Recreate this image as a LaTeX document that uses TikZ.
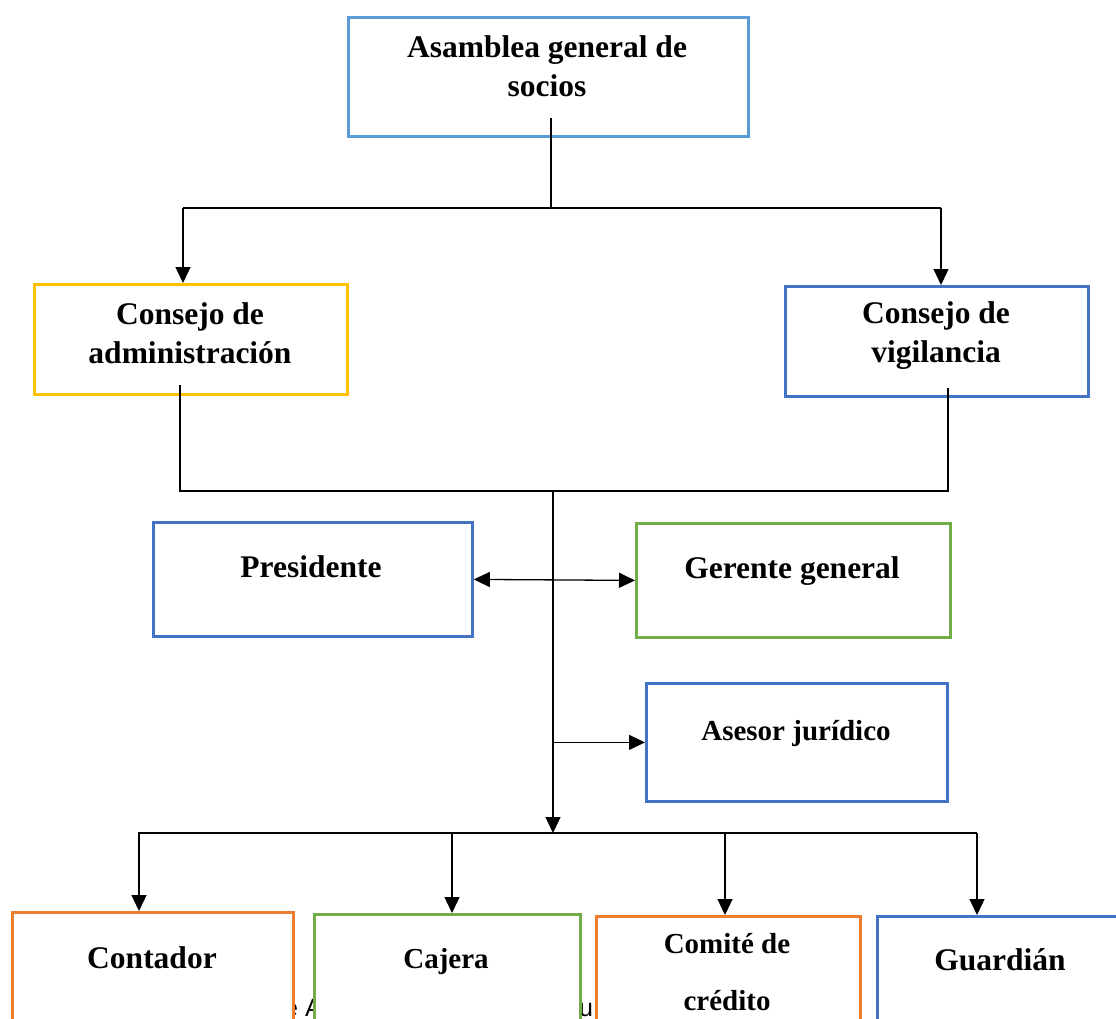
\documentclass[tikz,border=0pt]{standalone}
\usepackage{fontspec}
\setmainfont{Liberation Serif}
\newfontfamily\notefont{Liberation Sans}
\usetikzlibrary{arrows.meta,calc}

\definecolor{skyblue}{HTML}{5B9BD5}
\definecolor{gold}{HTML}{FFC000}
\definecolor{royal}{HTML}{4472C4}
\definecolor{leaf}{HTML}{70AD47}
\definecolor{tangerine}{HTML}{ED7D31}

\tikzset{
  box/.style={draw, line width=2.8pt, fill=white, inner sep=0pt, anchor=north west},
  lbl/.style={font=\bfseries\fontsize{31.5}{39}\selectfont, anchor=base, inner sep=0pt, align=center},
  lblsm/.style={lbl, font=\bfseries\fontsize{29}{57}\selectfont},
  note/.style={font=\notefont\fontsize{25}{30}\selectfont, inner sep=0pt, anchor=base west},
  conn/.style={line width=1.3pt},
  arr/.style={conn, -{Triangle[length=16pt,width=15pt]}},
  dblarr/.style={conn, {Triangle[length=16pt,width=15pt]}-{Triangle[length=16pt,width=15pt]}},
}

\begin{document}
\begin{tikzpicture}[x=1pt,y=-1pt]
\useasboundingbox (0,0) rectangle (1116,1018);
\clip (0,0) rectangle (1116,1018);

% note line running underneath the bottom row
\node[note] (noteA) at (284,1016) {e A};
\node[note] (noteB) at (579,1016) {u};

% boxes
\node[box, draw=skyblue, minimum width=400pt, minimum height=119pt] (asm) at (347,16) {};
\node[box, draw=gold,    minimum width=313pt, minimum height=110pt] (adm) at (33,283) {};
\node[box, draw=royal,   minimum width=303pt, minimum height=110pt] (vig) at (784,285) {};
\node[box, draw=royal,   minimum width=319pt, minimum height=114pt] (pres) at (152,521) {};
\node[box, draw=leaf,    minimum width=314pt, minimum height=114pt] (ger) at (635,522) {};
\node[box, draw=royal,   minimum width=301pt, minimum height=118pt] (ases) at (645,682) {};
\node[box, draw=tangerine, minimum width=281pt, minimum height=130pt] (cont) at (11,911) {};
\node[box, draw=leaf,    minimum width=266pt, minimum height=130pt] (caj) at (313,913) {};
\node[box, draw=tangerine, minimum width=264pt, minimum height=130pt] (com) at (595,915) {};
\node[box, draw=royal,   minimum width=260pt, minimum height=130pt] (gua) at (876,915) {};

% labels (base = baseline of the last line)
\node[lbl] (asmT)  at (547,96)  {Asamblea general de\\socios};
\node[lbl] (admT)  at (190,363) {Consejo de\\administración};
\node[lbl] (vigT)  at (936,362) {Consejo de\\vigilancia};
\node[lbl] (presT) at (311,577) {Presidente};
\node[lbl] (gerT)  at (792,578) {Gerente general};
\node[lblsm] (asesT) at (796,740) {Asesor jurídico};
\node[lbl] (contT) at (152,968) {Contador};
\node[lblsm] (cajT)  at (446,968) {Cajera};
\node[lblsm] (comT)  at (727,1010) {Comité de\\crédito};
\node[lbl] (guaT)  at (1000,970) {Guardián};

% junction points
\coordinate (j1)  at (551,208);
\coordinate (b1L) at (183,208);
\coordinate (b1R) at (941,208);
\coordinate (b2L) at (180,491);
\coordinate (b2M) at (553,491);
\coordinate (b2R) at (948,491);
\coordinate (b3L) at (138,833);
\coordinate (b3M) at (553,833);
\coordinate (b3R) at (977,833);
\coordinate (d1)  at (139,833);
\coordinate (d2)  at (452,833);
\coordinate (d3)  at (725,833);
\coordinate (d4)  at (977,833);

% top level
\draw[conn] ($(j1 |- asm.south)+(0,-20)$) -- (j1);
\draw[conn] (b1L) -- (b1R);
\draw[arr] (b1L) -- (b1L |- adm.north);
\draw[arr] (b1R) -- (b1R |- vig.north);

% councils joined
\draw[conn] ($(b2L |- adm.south)+(0,-11)$) -- (b2L) -- (b2R) -- ($(b2R |- vig.south)+(0,-10)$);
\draw[arr] (b2M) -- (b3M);
\draw[dblarr] (pres.east) -- (ger.west);
\draw[arr] (b2M |- ases.west) -- (ases.west);

% bottom row
\draw[conn] (b3L) -- (b3R);
\draw[arr] (d1) -- (d1 |- cont.north);
\draw[arr] (d2) -- (d2 |- caj.north);
\draw[arr] (d3) -- (d3 |- com.north);
\draw[arr] (d4) -- (d4 |- gua.north);
\end{tikzpicture}
\end{document}
